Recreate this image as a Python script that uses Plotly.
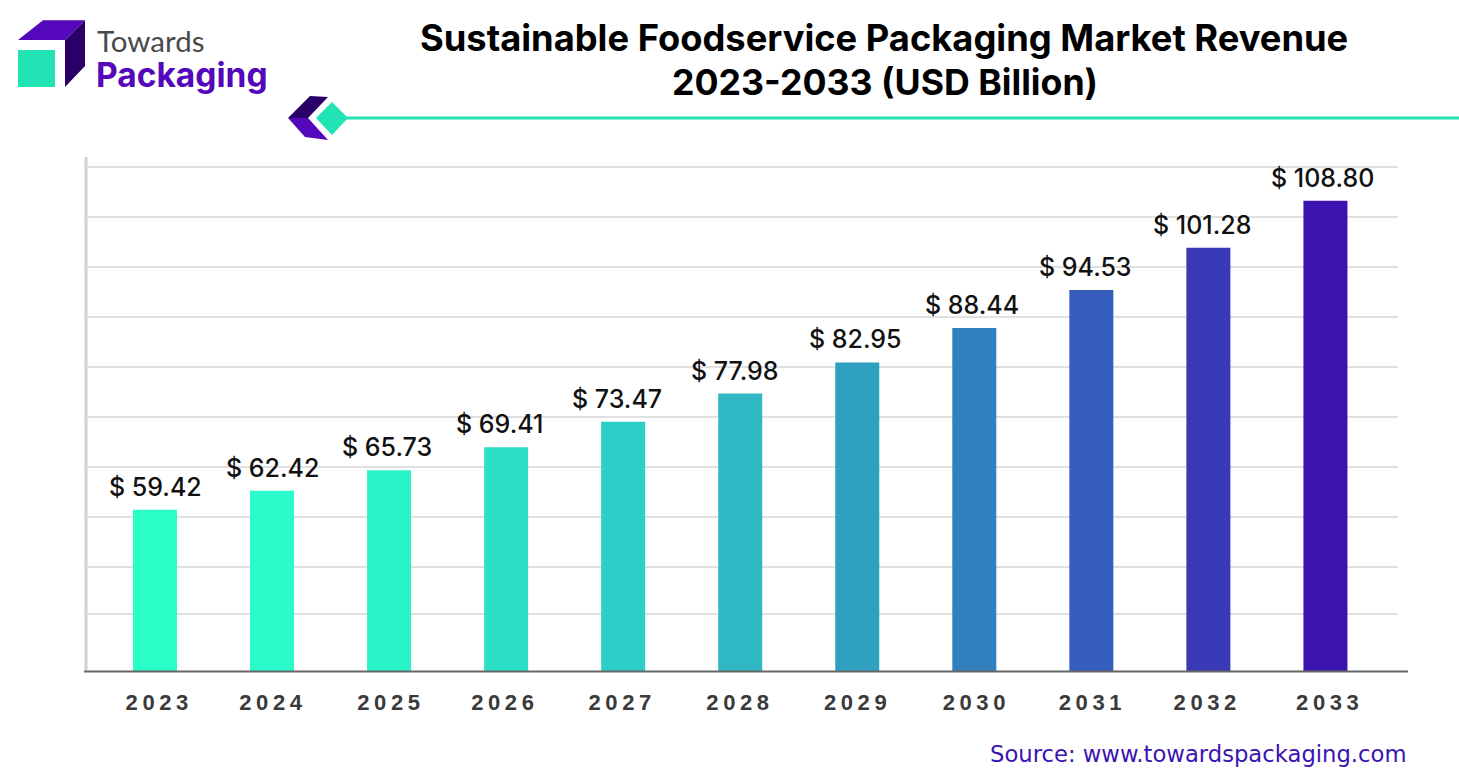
import plotly.graph_objects as go

years = [2023, 2024, 2025, 2026, 2027, 2028, 2029, 2030, 2031, 2032, 2033]
revenue = [59.42, 62.42, 65.73, 69.41, 73.47, 77.98, 82.95, 88.44, 94.53, 101.28, 108.80]
bar_colors = ["#2AFFC8", "#2BFBCA", "#2BF3C8", "#2BE0C6", "#2CCFC8", "#2FB8C4",
              "#2FA0C0", "#3280BD", "#355EBC", "#3A3AB8", "#3B14B0"]
grid_values = [42.8, 50.3, 58.3, 66.3, 74.3, 82.3, 90.2, 98.2, 106.2, 114.2]

# Labels are not quite centred on their bars in the original (pixels)
label_nudge = [1, 0, -2, -7, -6.5, -5.5, -1.5, -2.5, -5.5, -6, -3]
tick_nudge = [4.3, 0.9, 1.8, -1.3, -1, -0.2, 0.3, 2, 1.1, -1.1, 4.3]

# Plot area in page pixels, used to place the logo and the other decoration
left, right, top, bottom = 85, 1398, 157, 671.5
W, H = 1459, 783
px_per_year = 117.05


def px(x):
    return (x - left) / (right - left)


def py(y):
    return (bottom - y) / (bottom - top)


def poly(points, color):
    path = "M " + " L ".join(f"{px(x):.5f},{py(y):.5f}" for x, y in points) + " Z"
    return dict(type="path", xref="paper", yref="paper", path=path,
                fillcolor=color, line=dict(width=0), layer="above")


def line(x0, y0, x1, y1, color, width):
    return dict(type="line", xref="paper", yref="paper", x0=px(x0), y0=py(y0), x1=px(x1), y1=py(y1),
                line=dict(color=color, width=width), layer="above")


def label(x, y, text, size, color, family, anchor="left", weight=400):
    return dict(xref="paper", yref="paper", x=px(x), y=py(y), text=text, showarrow=False,
                xanchor=anchor, yanchor="middle",
                font=dict(size=size, color=color, family=family, weight=weight))


fig = go.Figure(go.Bar(
    x=years,
    y=revenue,
    width=0.376,
    marker=dict(color=bar_colors, line=dict(width=0)),
    hoverinfo="x+y",
))

shapes = [
    # logo
    poly([(18, 40), (43, 20), (85, 20), (65, 40)], "#5507BB"),
    poly([(65, 40), (85, 20), (85, 66), (65, 87)], "#2A0068"),
    poly([(18, 50), (55, 50), (55, 87), (18, 87)], "#22E3B4"),
    # title rule
    line(346, 118, W, 118, "#22E3B4", 3),
    poly([(288, 118), (310, 96), (328, 97), (308, 118)], "#2A0068"),
    poly([(288, 118), (308, 118), (328, 140), (305, 137)], "#5507BB"),
    poly([(316, 118), (332, 102), (348, 118), (332, 135)], "#22E3B4"),
    # axes
    line(86, 157, 86, 671, "#D2D2D2", 3),
    line(84, 672, 1408, 672, "#666666", 2),
]

annotations = [
    label(884, 38, "Sustainable Foodservice Packaging Market Revenue", 36.3, "#000000", "Inter", "center", 700),
    label(884.5, 82, "2023-2033 (USD Billion)", 35.7, "#000000", "Inter", "center", 700),
    label(95, 40, "Towards", 29.5, "#4A4A4A", "Lato"),
    label(94, 75, "Packaging", 33.5, "#5507BB", "Inter", weight=700),
    label(1409, 755, "Source: www.towardspackaging.com", 22.7, "#3A14B0", "DejaVu Sans", "right"),
]

for year, value, nudge in zip(years, revenue, label_nudge):
    annotations.append(dict(
        x=year, y=value, text=f"$ {value:.2f}", showarrow=False,
        xanchor="center", yanchor="middle", xshift=nudge, yshift=23,
        font=dict(family="Inter", size=25, color="#111111", weight=500),
    ))

fig.update_layout(
    width=W,
    height=H,
    margin=dict(l=left, r=W - right, t=top, b=H - bottom, pad=0),
    paper_bgcolor="white",
    plot_bgcolor="white",
    showlegend=False,
    shapes=shapes,
    annotations=annotations,
    xaxis=dict(
        range=[2022.402, 2033.62],
        tickvals=[y + n / px_per_year for y, n in zip(years, tick_nudge)],
        ticktext=[str(y) for y in years],
        showgrid=False,
        showline=False,
        zeroline=False,
        ticks="",
        ticklabelstandoff=16,
        tickfont=dict(family="Liberation Sans", size=22, color="#3A3A3A", weight=700),
    ),
    yaxis=dict(
        range=[33.62, 115.8],
        tickvals=grid_values,
        showticklabels=False,
        showgrid=True,
        gridcolor="#E0E0E0",
        gridwidth=2,
        zeroline=False,
        showline=False,
        ticks="",
    ),
)

# letter-spaced year labels and no page margin around the chart
page_css = """
var s = document.createElement('style');
s.textContent = 'body{margin:0} .xtick text{letter-spacing:4.6px}';
document.head.appendChild(s);
"""
fig.write_html("out.html", post_script=page_css, config=dict(displayModeBar=False))
